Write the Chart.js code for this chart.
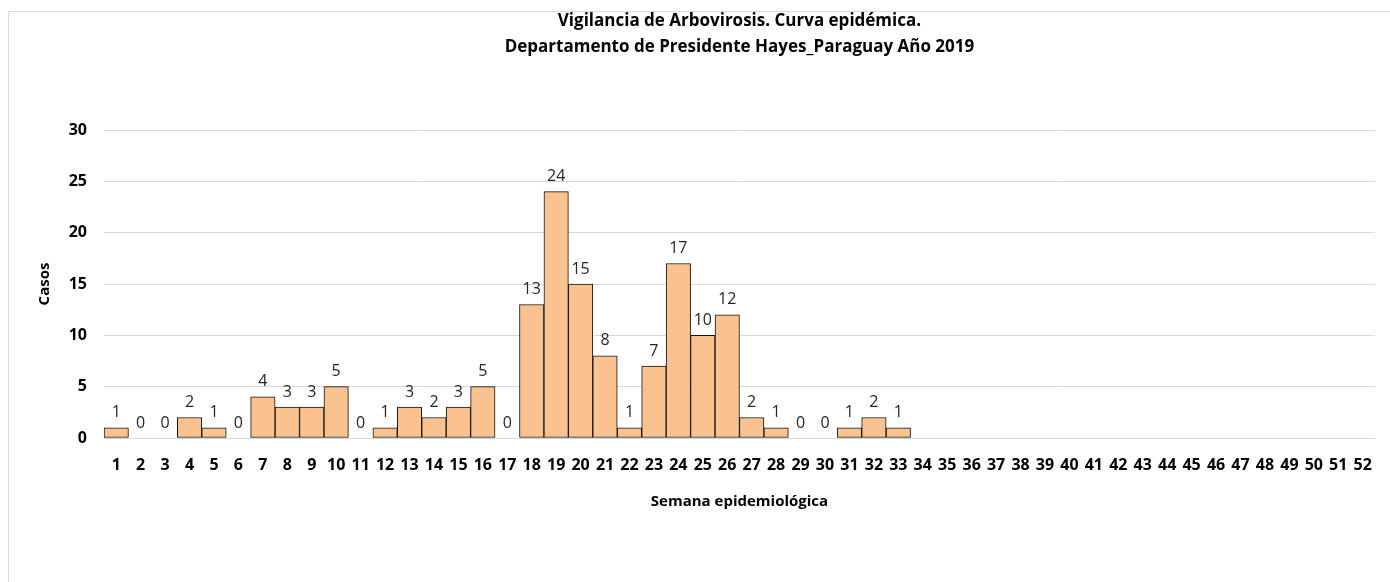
<!DOCTYPE html>
<html>
<head>
<meta charset="utf-8">
<script src="https://cdn.jsdelivr.net/npm/chart.js@4/dist/chart.umd.min.js"></script>
<style>
  html, body { margin:0; padding:0; background:#fff; overflow:hidden; }
  #wrap { position:relative; width:1390px; height:582px; }
  #frame { position:absolute; left:8px; top:11px; width:1400px; height:600px; border-left:1px solid #d9d9d9; border-top:1px solid #d9d9d9; pointer-events:none; }
</style>
</head>
<body>
<div id="wrap">
  <canvas id="c" width="1390" height="582"></canvas>
  <div id="frame"></div>
</div>
<script>
// Semana epidemiológica 1..52, casos por semana (sin datos después de la 33)
const weeks = Array.from({ length: 52 }, (_, i) => String(i + 1));
const casos = [1,0,0,2,1,0,4,3,3,5,0,1,3,2,3,5,0,13,24,15,8,1,7,17,10,12,2,1,0,0,1,2,1];
const titleLines = ['Vigilancia de Arbovirosis. Curva epidémica.', 'Departamento de Presidente Hayes_Paraguay Año 2019'];

const FONT = "'Open Sans', 'Noto Sans', sans-serif";
const values = weeks.map((w, i) => (i < casos.length ? casos[i] : null));

// simple value labels above each bar
const valueLabels = {
  id: 'valueLabels',
  afterDatasetsDraw(chart){
    const ctx = chart.ctx;
    const meta = chart.getDatasetMeta(0);
    ctx.save();
    ctx.font = '16px ' + FONT;
    ctx.fillStyle = '#262626';
    ctx.textAlign = 'center';
    ctx.textBaseline = 'middle';
    meta.data.forEach((bar, i) => {
      const v = values[i];
      if (v === null) return;
      ctx.fillText(String(v), bar.x, bar.y - 15);
    });
    ctx.restore();
  }
};

new Chart(document.getElementById('c'), {
  type: 'bar',
  data: {
    labels: weeks,
    datasets: [{
      data: values,
      backgroundColor: '#F9C28F',
      borderColor: '#111',
      borderWidth: 1,
      borderSkipped: false,
      barPercentage: 1,
      categoryPercentage: 1,
    }]
  },
  options: {
    responsive: false,
    animation: false,
    layout: { padding: { left: 32, right: 6, top: 0, bottom: 67 } },
    plugins: {
      legend: { display: false },
      tooltip: { enabled: false },
      title: {
        display: true,
        fullSize: false,
        text: titleLines,
        color: '#000',
        font: { family: FONT, size: 17, weight: 'bold', lineHeight: '26px' },
        padding: { top: 8, bottom: 70 },
      },
    },
    scales: {
      x: {
        afterFit(s){ s.height = 77; },
        grid: { display: false, drawTicks: false },
        border: { display: false },
        ticks: { color: '#000', font: { family: FONT, size: 16, weight: 'bold' }, padding: 18, maxRotation: 0, autoSkip: false },
        title: { display: true, text: 'Semana epidemiológica', color: '#000', font: { family: FONT, size: 15, weight: 'bold' }, padding: { top: 18, bottom: 4 } },
      },
      y: {
        min: 0, max: 30,
        afterFit(s){ s.width = 104 - 32; },
        grid: { color: '#d9d9d9', drawTicks: false },
        border: { display: false },
        ticks: { stepSize: 5, color: '#000', font: { family: FONT, size: 16, weight: 'bold' }, padding: 17 },
        title: { display: true, text: 'Casos', color: '#000', font: { family: FONT, size: 15, weight: 'bold' }, padding: { top: 4, bottom: 4 } },
      }
    }
  },
  plugins: [valueLabels]
});
</script>
</body>
</html>
